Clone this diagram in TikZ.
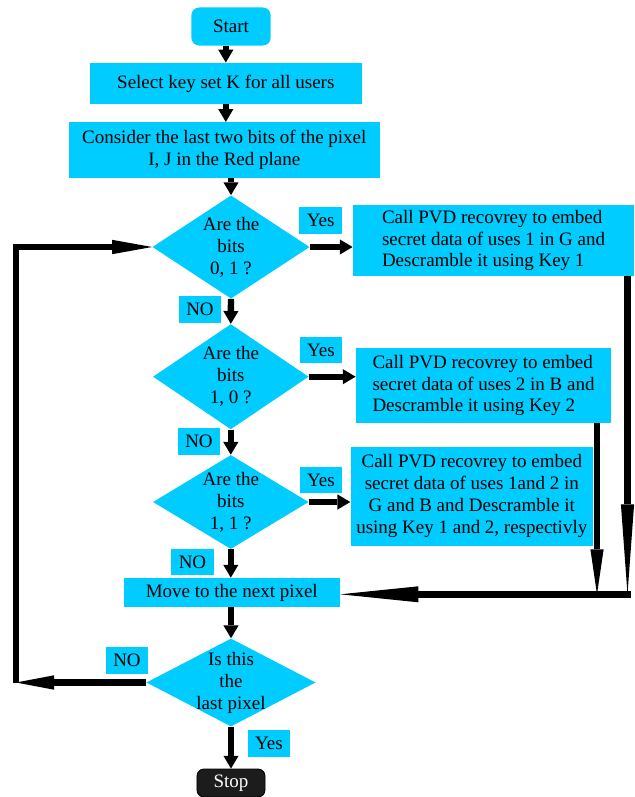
\documentclass[tikz,border=0pt]{standalone}
\usepackage{fontspec}
\setmainfont{Liberation Serif}
\usetikzlibrary{arrows.meta,positioning,shapes.geometric}
\definecolor{cflow}{HTML}{00CCFF}
\definecolor{cstop}{HTML}{1C1C1C}

\begin{document}
\begin{tikzpicture}[
    x=0.025cm, y=-0.025cm,
    font=\fontsize{13.5}{15.6}\selectfont,
    flowarrow/.style={-{Triangle[length=0.32cm,width=0.38cm,line width=0pt]},line width=0.16cm,black},
    loopline/.style={line width=0.16cm,black,line join=miter},
    procbox/.style={rectangle, fill=cflow, align=center, inner sep=2pt},
    decision/.style={diamond, fill=cflow, inner sep=0pt},
    answer/.style={rectangle, fill=cflow, inner sep=1pt,
        minimum width=1.07cm, minimum height=0.67cm},
]
\useasboundingbox (0,0) rectangle (634,797);

% ============================================================
% TOP: start and set-up
% ============================================================
\node[procbox, rounded corners=5.5pt, minimum width=1.98cm, minimum height=0.95cm]
    (start) at (231,26.5) {Start};
\node[procbox, minimum width=6.79cm, minimum height=1.03cm]
    (keyset) at (225.8,83.4) {Select key set K for all users};
\node[procbox, minimum width=7.78cm, minimum height=1.39cm]
    (lastbits) at (224.3,150) {Consider the last two bits of the pixel\\I, J in the Red plane};

\draw[flowarrow] (start.south -| keyset.north) -- (keyset.north);
\draw[flowarrow] (keyset.south) -- (keyset.south |- lastbits.north);

% ============================================================
% DECISIONS
% ============================================================
\node[decision, minimum width=3.93cm, minimum height=2.58cm] (bits01) at (231,247) {};
\node[align=center] (bits01txt) at (bits01) {Are the\\bits\\0, 1 ?};

\node[decision, minimum width=3.89cm, minimum height=2.63cm] (bits10) at (230.8,376.7) {};
\node[align=center] (bits10txt) at (bits10) {Are the\\bits\\1, 0 ?};

\node[decision, minimum width=3.89cm, minimum height=2.35cm] (bits11) at (230.8,502) {};
\node[align=center] (bits11txt) at (bits11) {Are the\\bits\\1, 1 ?};

\draw[flowarrow] (lastbits.south -| bits01.north) -- (bits01.north);
\draw[flowarrow] (bits01.south) -- (bits10.north);
\draw[flowarrow] (bits10.south) -- (bits11.north);

% ============================================================
% EMBEDDING: one box per case
% ============================================================
\node[procbox, align=left, minimum width=7.03cm, minimum height=1.78cm]
    (embed1) at (493.5,240.5)
    {Call PVD recovrey to embed\\secret data of uses 1 in G and\\Descramble it using Key 1};
\node[procbox, align=left, minimum width=6.38cm, minimum height=1.88cm]
    (embed2) at (483.5,385.5)
    {Call PVD recovrey to embed\\secret data of uses 2 in B and\\Descramble it using Key 2};
\node[procbox, minimum width=6.06cm, minimum height=2.48cm]
    (embed3) at (471.8,496.2)
    {Call PVD recovrey to embed\\secret data of uses 1and 2 in\\G and B and Descramble it\\using Key 1 and 2, respectivly};

\draw[flowarrow] (bits01.east) -- (bits01.east -| embed1.west);
\draw[flowarrow] (bits10.east) -- (bits10.east -| embed2.west);
\draw[flowarrow] (bits11.east) -- (bits11.east -| embed3.west);

\node[answer] (yes01) at (320.7,220.7) {Yes};
\node[answer] (yes10) at (321,350) {Yes};
\node[answer] (yes11) at (321,480) {Yes};
\node[answer] (no01) at (200,309.4) {NO};
\node[answer] (no10) at (199,441.5) {NO};
\node[answer] (no11) at (192.5,562) {NO};

% ============================================================
% NEXT PIXEL and end test
% ============================================================
\node[procbox, minimum width=5.41cm, minimum height=0.73cm]
    (nextpix) at (231.8,592.5) {Move to the next pixel};
\node[decision, minimum width=4.23cm, minimum height=2.2cm] (lastpix) at (231,682.5) {};
\node[align=center] (lastpixtxt) at (lastpix) {Is this\\the\\last pixel};
\node[rounded corners=5pt, draw=black, line width=0.6pt, fill=cstop, text=white,
    minimum width=1.7cm, minimum height=0.7cm] (stop) at (231,783) {Stop};

\draw[flowarrow] (bits11.south) -- (bits11.south |- nextpix.north);
\draw[flowarrow] (nextpix.south -| lastpix.north) -- (lastpix.north);
\draw[flowarrow] (lastpix.south) -- (stop.north);

\node[answer] (nolast) at (127,660.4) {NO};
\node[answer] (yeslast) at (269,743.4) {Yes};

% ============================================================
% RETURN LINES
% ============================================================
\coordinate (rjoin) at (627.5,594.3);
\coordinate (bjoin) at (597,594.3);
\coordinate (loopbot) at (16,682.5);
\coordinate (looptop) at (16,247);

\draw[loopline,-{Triangle[length=2.25cm,width=0.33cm,line width=0pt]}]
    (embed1.south -| rjoin) -- (rjoin);
\draw[loopline,-{Triangle[length=1.12cm,width=0.33cm,line width=0pt]}]
    (embed2.south -| bjoin) -- (bjoin);
\draw[loopline,line cap=rect,-{Triangle[length=1.95cm,width=0.4cm,line width=0pt]}]
    (rjoin) -- (rjoin -| nextpix.east);

\draw[loopline,-{Triangle[length=0.95cm,width=0.36cm,line width=0pt]}]
    (lastpix.west) -- (loopbot);
\draw[loopline,-{Triangle[length=1cm,width=0.36cm,line width=0pt]}]
    (loopbot) -- (looptop) -- (bits01.west);

\end{tikzpicture}
\end{document}
